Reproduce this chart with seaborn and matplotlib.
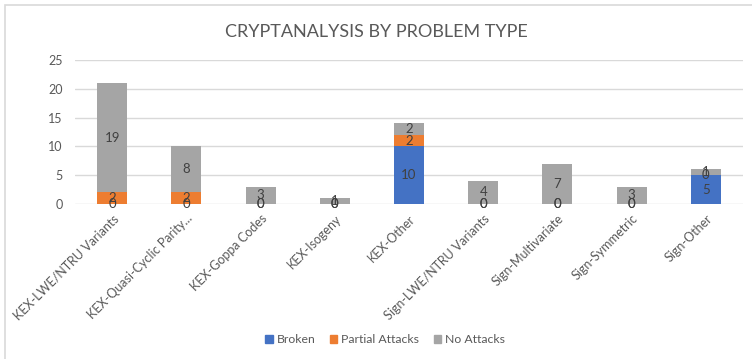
import matplotlib
matplotlib.use('Agg')
import matplotlib.pyplot as plt
import matplotlib.patches as mpatches
import seaborn as sns
import pandas as pd

categories = ['KEX-LWE/NTRU Variants', 'KEX-Quasi-Cyclic Parity...', 'KEX-Goppa Codes',
              'KEX-Isogeny', 'KEX-Other', 'Sign-LWE/NTRU Variants', 'Sign-Multivariate',
              'Sign-Symmetric', 'Sign-Other']
broken = [0, 0, 0, 0, 10, 0, 0, 0, 5]
partial = [2, 2, 0, 0, 2, 0, 0, 0, 0]
no_attacks = [19, 8, 3, 1, 2, 4, 7, 3, 1]

series_names = ['Broken', 'Partial Attacks', 'No Attacks']
colors = ['#4472C4', '#ED7D31', '#A5A5A5']

sns.set_style('white')
plt.rcParams['font.family'] = ['Lato', 'DejaVu Sans']

df = pd.DataFrame({'cat': categories, 'Broken': broken,
                   'Partial Attacks': partial, 'No Attacks': no_attacks})
df['top1'] = df['Broken']
df['top2'] = df['Broken'] + df['Partial Attacks']
df['top3'] = df['top2'] + df['No Attacks']

fig = plt.figure(figsize=(7.52, 3.59), dpi=100)
ax = fig.add_axes([75 / 752, 1 - 204 / 359, 668 / 752, 144 / 359])

# chart border
fig.patches.append(mpatches.Rectangle((0.007, -0.1), 1.1, 1.087, transform=fig.transFigure,
                                      fill=False, edgecolor='#D9D9D9', linewidth=1.2))

ax.set_axisbelow(True)
ax.yaxis.grid(True, color='#D9D9D9', linewidth=1)
for top, color in zip(['top3', 'top2', 'top1'], colors[::-1]):
    sns.barplot(data=df, x='cat', y=top, color=color, width=0.405, ax=ax,
                saturation=1, edgecolor='none', zorder=2)

# data labels
for i in range(len(categories)):
    bottom = 0
    for name in series_names:
        v = df.loc[i, name]
        ax.text(i, bottom + v / 2, str(v), ha='center', va='center',
                fontsize=9.5, color='#404040', zorder=3)
        bottom += v

ax.set_ylim(0, 25)
ax.set_yticks(range(0, 26, 5))
ax.set_xlim(-0.5, len(categories) - 0.5)
ax.set_xlabel('')
ax.set_ylabel('')
for s in ax.spines.values():
    s.set_visible(False)
ax.tick_params(axis='both', length=0, colors='#595959', labelsize=9)
ax.tick_params(axis='y', pad=9)
ax.tick_params(axis='x', pad=6)
ax.set_xticks(range(len(categories)))
ax.set_xticklabels(categories, rotation=45, ha='right', rotation_mode='anchor')

fig.text(0.5, 0.911, 'CRYPTANALYSIS BY PROBLEM TYPE', ha='center', va='center',
         fontsize=13, color='#595959')

handles = [mpatches.Patch(color=c, label=n) for c, n in zip(colors, series_names)]
fig.legend(handles=handles, loc='center', bbox_to_anchor=(0.512, 0.053), ncol=3,
           frameon=False, fontsize=8.8, handlelength=0.6, handleheight=0.6,
           handletextpad=0.3, columnspacing=1.2, labelcolor='#595959')

fig.savefig('out.png', dpi=100)
plt.close(fig)
